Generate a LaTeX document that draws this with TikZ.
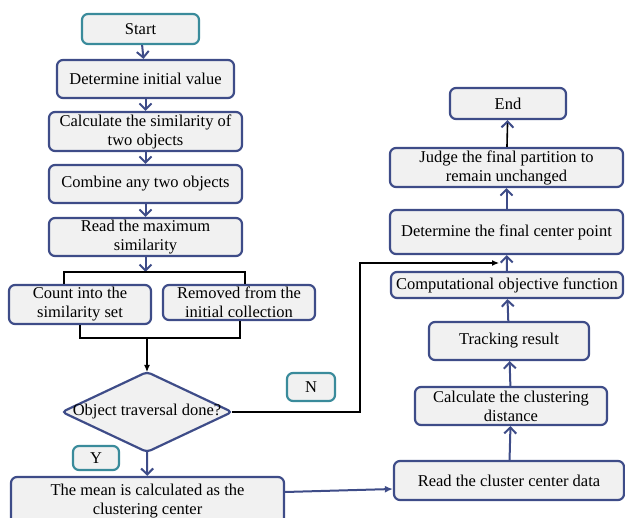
\documentclass[tikz,border=0pt]{standalone}
\usepackage{fontspec}
\setmainfont{Liberation Serif}
\usetikzlibrary{arrows.meta}
\definecolor{navy}{HTML}{3E4C88}
\definecolor{teal2}{HTML}{3A8B9B}
\definecolor{boxfill}{HTML}{F1F1F1}
\begin{document}
\begin{tikzpicture}[x=1pt,y=-1pt,
  box/.style={draw=navy, line width=2.2pt, fill=boxfill, rounded corners=6pt, inner sep=0pt, align=center, font=\fontsize{16.5}{19}\selectfont},
  tbox/.style={box, draw=teal2},
  arr/.style={draw=navy, line width=2pt, -{Straight Barb[length=6pt,width=12pt,line width=2pt]}},
  blk/.style={draw=black, line width=1.2pt},
  blkarr/.style={blk, -{Latex[length=7pt,width=6pt]}}
]
\useasboundingbox (0,0) rectangle (625,518);
% left column
\node[tbox, minimum width=117pt, minimum height=30pt] (start) at (140.5,29) {Start};
\node[box, minimum width=177pt, minimum height=38pt] (init) at (145.5,79) {Determine initial value};
\node[box, minimum width=193pt, minimum height=39pt] (sim) at (145.5,131.5) {Calculate the similarity of\\two objects};
\node[box, minimum width=193pt, minimum height=38pt] (comb) at (145.5,184) {Combine any two objects};
\node[box, minimum width=193pt, minimum height=38pt] (rmax) at (145.5,237) {Read the maximum\\similarity};
\node[box, minimum width=142pt, minimum height=39pt] (count) at (80,304.5) {Count into the\\similarity set};
\node[box, minimum width=152pt, minimum height=35pt] (remv) at (239,302.5) {Removed from the\\initial collection};
% diamond
\coordinate (dt) at (147,372);
\coordinate (dr) at (232,412);
\coordinate (db) at (147,452);
\coordinate (dl) at (62,412);
\draw[draw=navy, line width=2.2pt, fill=boxfill, rounded corners=4pt] (dt) -- (dr) -- (db) -- (dl) -- cycle;
\node[font=\fontsize{16.5}{19}\selectfont, inner sep=0pt] (dia) at (147,412) {Object traversal done?};
\node[tbox, minimum width=46pt, minimum height=24pt] (ylab) at (96,458) {Y};
\node[box, minimum width=273pt, minimum height=48pt] (mean) at (147.5,501) {The mean is calculated as the\\clustering center};
\node[tbox, minimum width=48pt, minimum height=28pt] (nlab) at (311,387) {N};
% right column
\node[box, minimum width=116pt, minimum height=31pt] (end) at (508,103.5) {End};
\node[box, minimum width=233pt, minimum height=39pt] (judge) at (506.5,167.5) {Judge the final partition to\\remain unchanged};
\node[box, minimum width=233pt, minimum height=44pt] (dfinal) at (506.5,232) {Determine the final center point};
\node[box, minimum width=232pt, minimum height=26pt] (comp) at (507,285) {Computational objective function};
\node[box, minimum width=160pt, minimum height=38pt] (track) at (509,341) {Tracking result};
\node[box, minimum width=192pt, minimum height=38pt] (cdist) at (511,406) {Calculate the clustering\\distance};
\node[box, minimum width=230pt, minimum height=39pt] (rcc) at (509,480.5) {Read the cluster center data};
% left arrows
\draw[arr] (start) -- (init);
\draw[arr] (init) -- (sim);
\draw[arr] (sim) -- (comb);
\draw[arr] (comb) -- (rmax);
\coordinate (bm) at (145.5,272);
\coordinate (bl) at (64,272);
\coordinate (br) at (245,272);
\draw[arr] (rmax) -- (bm);
\draw[blk] (count.north -| bl) -- (bl) -- (br) -- (remv.north -| br);
\coordinate (jl) at (80,338);
\coordinate (jr) at (240,338);
\coordinate (jm) at (147,338);
\draw[blk] (count.south -| jl) -- (jl) -- (jr) -- (remv.south -| jr);
\draw[blkarr] (jm) -- (dt);
\draw[arr] (db) -- (mean);
% N branch
\coordinate (n1) at (360,412);
\coordinate (n2) at (360,263);
\coordinate (n3) at (499,263);
\draw[blkarr] (dr) -- (n1) -- (n2) -- (n3);
% mean to read
\draw[draw=navy, line width=2pt, -{Latex[length=8pt,width=7pt]}] ([yshift=9pt]mean.east) -- ([yshift=-8.5pt]rcc.west);
% right arrows
\draw[arr] (rcc) -- (cdist);
\draw[arr] (cdist) -- (track);
\draw[arr] (track) -- (comp);
\draw[arr] (comp) -- (dfinal);
\draw[arr] (dfinal) -- (judge);
\draw[blk, line width=1.6pt, -{Straight Barb[length=6pt,width=12pt,line width=2pt,color=navy]}] (judge) -- (end);
\end{tikzpicture}
\end{document}
